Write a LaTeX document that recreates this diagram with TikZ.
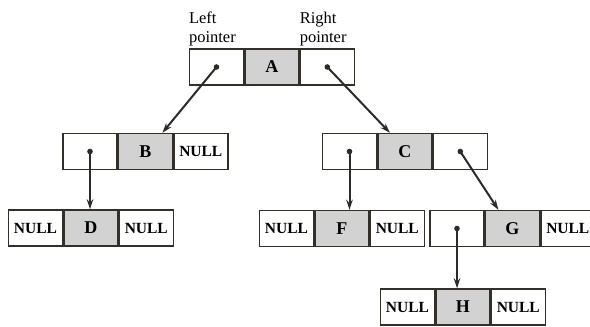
\documentclass[tikz,border=0pt]{standalone}
\usepackage{fontspec}
\setmainfont{Liberation Serif}
\usetikzlibrary{arrows.meta, positioning}

\begin{document}
\begin{tikzpicture}[
    x=1pt, y=1pt, >={Stealth[length=10pt, width=6.5pt]},
    cell/.style={draw=black!85!olive, line width=1.4pt, minimum width=54pt,
                 minimum height=36pt, inner sep=0pt,
                 font=\fontsize{15.5}{17}\selectfont\bfseries},
    key/.style={cell, fill=gray!35, font=\fontsize{18}{20}\selectfont\bfseries},
    link/.style={->, line width=2pt, black!90!olive},
    dot/.style={fill=black!90!olive},
    tag/.style={font=\fontsize{16.5}{19}\selectfont, align=left,
                anchor=south west, inner xsep=0pt, inner ysep=2pt}
  ]
  \useasboundingbox (0,0) rectangle (590,-327);

  % root
  \node[cell] (Al) at (216.5,-67) {};
  \node[key, right=0pt of Al] (A) {A};
  \node[cell, right=0pt of A] (Ar) {};
  \node[tag] (lefttag) at (Al.north west) {Left\\pointer};
  \node[tag] (righttag) at (Ar.north west) {Right\\pointer};

  % second level
  \node[cell] (Bl) at (90,-151.5) {};
  \node[key, right=0pt of Bl] (B) {B};
  \node[cell, right=0pt of B] (Br) {NULL};

  \node[cell] (Cl) at (349.5,-151.5) {};
  \node[key, right=0pt of Cl] (C) {C};
  \node[cell, right=0pt of C] (Cr) {};

  % third level
  \node[cell] (Dl) at (35.5,-228) {NULL};
  \node[key, right=0pt of Dl] (D) {D};
  \node[cell, right=0pt of D] (Dr) {NULL};

  \node[cell] (Fl) at (286.5,-228.5) {NULL};
  \node[key, right=0pt of Fl] (F) {F};
  \node[cell, right=0pt of F] (Fr) {NULL};

  \node[cell] (Gl) at (457,-228.5) {};
  \node[key, right=0pt of Gl] (G) {G};
  \node[cell, right=0pt of G] (Gr) {NULL};

  % fourth level
  \node[cell] (Hl) at (407.5,-307) {NULL};
  \node[key, right=0pt of Hl] (H) {H};
  \node[cell, right=0pt of H] (Hr) {NULL};

  % pointers
  \foreach \p in {Al, Ar, Bl, Cl, Cr, Gl}
    \fill[dot] (\p.center) circle (2.8pt);
  \draw[link] (Al.center) -- ([xshift=17pt]B.north);
  \draw[link] (Ar.center) -- ([xshift=-15pt]C.north);
  \draw[link] (Bl.center) -- (Bl.center |- D.north);
  \draw[link] (Cl.center) -- (Cl.center |- F.north);
  \draw[link] (Cr.center) -- ([xshift=-14pt]G.north);
  \draw[link] (Gl.center) -- (Gl.center |- H.north);
\end{tikzpicture}
\end{document}
